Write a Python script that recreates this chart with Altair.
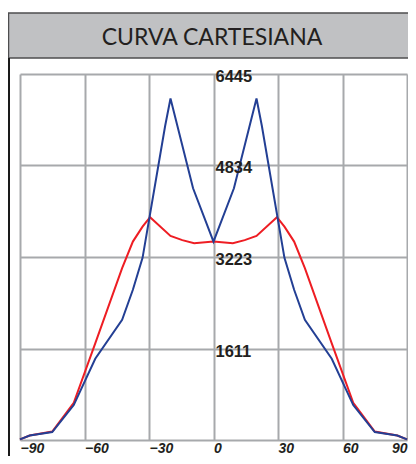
import altair as alt
import pandas as pd

# Blue curve (angle in degrees, value)
blue_deg = [-90, -85.5, -75, -65, -55, -42.5, -37.5, -33, -22.5, -20, -9.5, 0,
            9.5, 20, 22.5, 33, 37.5, 42.5, 55, 65, 75, 85.5, 90]
blue_val = [10, 80, 140, 615, 1430, 2118, 2645, 3207, 5530, 6014, 4432, 3494,
            4432, 6014, 5530, 3207, 2645, 2118, 1430, 615, 140, 80, 10]

# Red curve
red_deg = [-90, -85.5, -75, -65, -55, -42.5, -37.5, -33, -29.5, -20, -14.5, -9, 0,
           9, 14.5, 20, 29.5, 33, 37.5, 42.5, 55, 65, 75, 85.5, 90]
red_val = [10, 80, 150, 654, 1700, 3026, 3494, 3757, 3923, 3594, 3520, 3466, 3494,
           3466, 3520, 3594, 3923, 3757, 3494, 3026, 1700, 654, 150, 80, 10]

x_ticks = [-90, -60, -30, 0, 30, 60, 90]
y_ticks = [0, 1611, 3223, 4834, 6445]
y_labels = ["1611", "3223", "4834", "6445"]
title_text = "CURVA CARTESIANA"

W, H = 387, 366
PAD = {"left": 12, "top": 66, "right": 1, "bottom": 16}

blue_df = pd.DataFrame({"deg": blue_deg, "val": blue_val})
red_df = pd.DataFrame({"deg": red_deg, "val": red_val})
ylab_df = pd.DataFrame({"deg": [0] * len(y_labels), "val": [int(v) for v in y_labels], "label": y_labels})
dummy = pd.DataFrame({"a": [0]})

xscale = alt.Scale(domain=[-90, 90], nice=False, zero=False)
yscale = alt.Scale(domain=[0, 6445], nice=False)

x_enc = alt.X("deg:Q", scale=xscale, title=None,
              axis=alt.Axis(values=x_ticks, grid=True, gridColor="#a7a9ac", gridWidth=2,
                            domain=False, ticks=False,
                            labelAlign=alt.ExprRef(expr="datum.value >= 90 ? 'right' : 'left'"),
                            labelFont="Liberation Sans", labelFontSize=14, labelFontWeight="bold",
                            labelFontStyle="italic", labelColor="#231f20", labelPadding=1))
y_enc = alt.Y("val:Q", scale=yscale, title=None,
              axis=alt.Axis(values=y_ticks, grid=True, gridColor="#a7a9ac", gridWidth=2,
                            domain=False, ticks=False, labels=False))

band = alt.Chart(dummy).mark_rect(fill="#c0c1c3", stroke="#4d4d4f", strokeWidth=1.5).encode(
    x=alt.value(-11.5), x2=alt.value(400), y=alt.value(-61), y2=alt.value(-16))
leftline = alt.Chart(dummy).mark_rule(color="#1a1a1a", strokeWidth=2).encode(
    x=alt.value(-11), y=alt.value(-16), y2=alt.value(400))
title = alt.Chart(dummy).mark_text(text=title_text, font="Lato", fontSize=23, color="#231f20",
                                   align="center", baseline="alphabetic").encode(
    x=alt.value(192), y=alt.value(-29))

red = alt.Chart(red_df).mark_line(color="#ee1d23", strokeWidth=2).encode(x=x_enc, y=y_enc)
blue = alt.Chart(blue_df).mark_line(color="#233f94", strokeWidth=2).encode(x="deg:Q", y="val:Q")
ylabels = alt.Chart(ylab_df).mark_text(align="left", baseline="alphabetic", dx=2, dy=8,
                                       font="Liberation Sans", fontSize=16.5, fontWeight="bold",
                                       color="#231f20").encode(x="deg:Q", y="val:Q", text="label:N")

chart = alt.layer(red, blue, ylabels, band, leftline, title).properties(
    width=W, height=H, padding=PAD, autosize=alt.AutoSizeParams(type="none")
).configure_view(stroke=None)

chart.save("out.html", embed_options={"renderer": "svg", "actions": False})
